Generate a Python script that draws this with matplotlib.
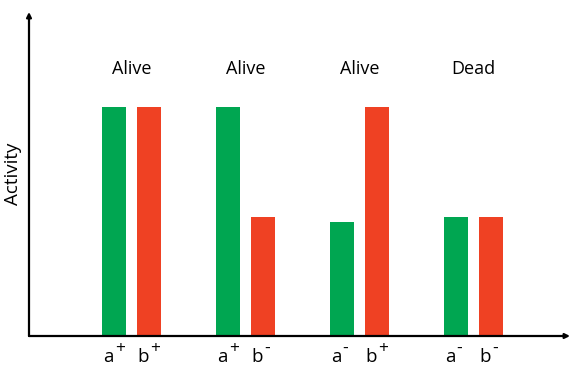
import matplotlib.pyplot as plt
import numpy as np

STATES = ['Alive', 'Alive', 'Alive', 'Dead']
A_SIGNS = ['+', '+', '-', '-']
B_SIGNS = ['+', '-', '+', '-']
A_ACTIVITY = [10.0, 10.0, 5.0, 5.2]
B_ACTIVITY = [10.0, 5.2, 10.0, 5.2]

GREEN = '#00a651'
RED = '#ef4123'

plt.rcParams['font.family'] = ['Open Sans', 'DejaVu Sans']

W, H = 572, 375
fig = plt.figure(figsize=(W / 100, H / 100), dpi=100)
# axes box in pixels: left 29, right 570, bottom 336, top 12
ax = fig.add_axes([29 / W, (H - 336) / H, (570 - 29) / W, (336 - 12) / H])

x = np.arange(len(STATES))
width = 0.21
offset = 0.154
ax.bar(x - offset, A_ACTIVITY, width, color=GREEN)
ax.bar(x + offset, B_ACTIVITY, width, color=RED)

ax.set_xlim(-0.899, 3.846)
ax.set_ylim(0, 14.15)

for s in ax.spines.values():
    s.set_visible(False)
ax.set_xticks([])
ax.set_yticks([])

# axes with small arrowheads
ax.annotate('', xy=(1.0, 0), xytext=(0, 0), xycoords='axes fraction',
            arrowprops=dict(arrowstyle='-|>', lw=1.6, color='black',
                            mutation_scale=7, shrinkA=0, shrinkB=0))
ax.annotate('', xy=(0, 1.0), xytext=(0, 0), xycoords='axes fraction',
            arrowprops=dict(arrowstyle='-|>', lw=1.6, color='black',
                            mutation_scale=7, shrinkA=0, shrinkB=0))


def gene_label(xpos, letter, sign):
    # base letter with a raised sign next to it
    ax.annotate(letter, (xpos, 0), xytext=(0, -18.5), textcoords='offset points',
                ha='right', va='baseline', fontsize=13.5, annotation_clip=False)
    ax.annotate(sign, (xpos, 0), xytext=(0.5, -12), textcoords='offset points',
                ha='left', va='baseline', fontsize=12.5, annotation_clip=False)


for i, st in enumerate(STATES):
    ax.text(x[i], 11.65, st, ha='center', va='center', fontsize=13)
    gene_label(x[i] - offset, 'a', A_SIGNS[i])
    gene_label(x[i] + offset, 'b', B_SIGNS[i])

ax.set_ylabel('Activity', fontsize=13.5, labelpad=5)

fig.savefig('out.png', dpi=100)
